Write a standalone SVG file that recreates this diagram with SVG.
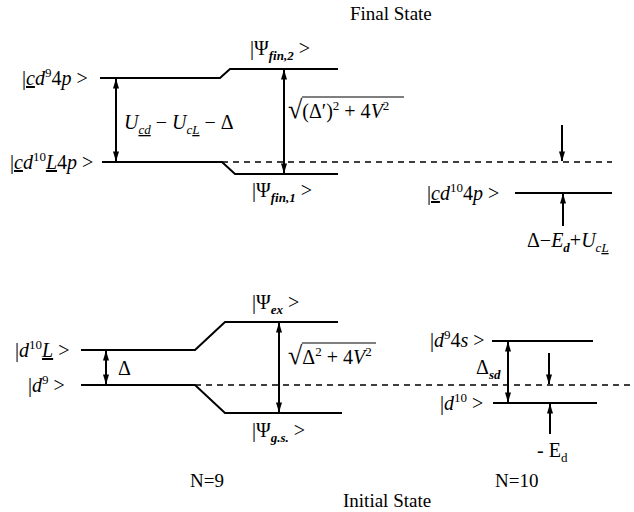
<svg xmlns="http://www.w3.org/2000/svg" width="634" height="512" viewBox="0 0 634 512">
<defs>
<marker id="ah" viewBox="0 0 10 6" refX="9.5" refY="3" markerWidth="11" markerHeight="6" markerUnits="userSpaceOnUse" orient="auto-start-reverse">
<path d="M0,0 L10,3 L0,6 z" fill="#000"/>
</marker>
<style>
text{font-family:"Liberation Serif","DejaVu Serif",serif;font-size:20px;fill:#000}
.ti{font-size:19px}
.i{font-style:italic}
.u{text-decoration:underline}
.s{font-size:13px}
.sb{font-size:13px;font-weight:bold;font-style:italic}
.rd{font-size:26px}
.lv{fill:none;stroke:#000;stroke-width:2}
.ds{fill:none;stroke:#000;stroke-width:1.5;stroke-dasharray:6 5}
.ar{fill:none;stroke:#000;stroke-width:2}
.ob{stroke:#000;stroke-width:1.2}
</style>
</defs>
<rect width="634" height="512" fill="#fff"/>

<g id="titles">
<text class="ti" x="350" y="20">Final State</text>
<text class="ti" x="343" y="507">Initial State</text>
<text class="ti" x="190" y="487">N=9</text>
<text class="ti" x="495" y="487">N=10</text>
</g>

<g id="levels">
<path class="lv" d="M100,78 H220 L230,69 H338"/>
<path class="lv" d="M102,162 H222 L235,174 H338"/>
<path class="lv" d="M515,193 H612"/>
<path class="lv" d="M81,350 H195 L225,322 H338"/>
<path class="lv" d="M81,385 H195 L225,413 H342"/>
<path class="lv" d="M492,341 H593"/>
<path class="lv" d="M493,403 H597"/>
<path class="ds" d="M222,162 H612"/>
<path class="ds" d="M195,385 H634"/>
</g>

<g id="connectors">
<path class="ar" d="M116,79 V161" marker-start="url(#ah)" marker-end="url(#ah)"/>
<path class="ar" d="M284,70 V173" marker-start="url(#ah)" marker-end="url(#ah)"/>
<path class="ar" d="M562,125 V161" marker-end="url(#ah)"/>
<path class="ar" d="M563,226 V194" marker-end="url(#ah)"/>
<path class="ar" d="M106,351 V384" marker-start="url(#ah)" marker-end="url(#ah)"/>
<path class="ar" d="M279,323 V412" marker-start="url(#ah)" marker-end="url(#ah)"/>
<path class="ar" d="M508,342 V402" marker-start="url(#ah)" marker-end="url(#ah)"/>
<path class="ar" d="M549,353 V384" marker-end="url(#ah)"/>
<path class="ar" d="M550,434 V404" marker-end="url(#ah)"/>
</g>

<g id="labels">
<text x="22" y="85">|<tspan class="i u">c</tspan><tspan class="i">d</tspan><tspan class="s" dy="-8">9</tspan><tspan dy="8">4</tspan><tspan class="i">p</tspan> &gt;</text>
<text x="250" y="55">|Ψ<tspan class="sb" dy="5">fin,2</tspan><tspan dy="-5"> &gt;</tspan></text>
<text x="124" y="129"><tspan class="i">U</tspan><tspan class="s i u" dy="5">cd</tspan><tspan dy="-5"> − </tspan><tspan class="i">U</tspan><tspan class="s i" dy="5">c</tspan><tspan class="s i u">L</tspan><tspan dy="-5"> − Δ</tspan></text>
<text x="288" y="118"><tspan class="rd">√</tspan>(Δ′)<tspan class="s" dy="-8">2</tspan><tspan dy="8"> + 4</tspan><tspan class="i">V</tspan><tspan class="s" dy="-8">2</tspan></text>
<path class="ob" d="M302,97 H404"/>
<text x="10" y="169">|<tspan class="i u">c</tspan><tspan class="i">d</tspan><tspan class="s" dy="-8">10</tspan><tspan class="i u" dy="8">L</tspan>4<tspan class="i">p</tspan> &gt;</text>
<text x="252" y="197">|Ψ<tspan class="sb" dy="5">fin,1</tspan><tspan dy="-5"> &gt;</tspan></text>
<text x="427" y="200">|<tspan class="i u">c</tspan><tspan class="i">d</tspan><tspan class="s" dy="-8">10</tspan><tspan dy="8">4</tspan><tspan class="i">p</tspan> &gt;</text>
<text x="527" y="247">Δ−<tspan class="i">E</tspan><tspan class="sb" dy="5">d</tspan><tspan dy="-5">+</tspan><tspan class="i">U</tspan><tspan class="s i" dy="5">c</tspan><tspan class="s i u">L</tspan></text>

<text x="252" y="309">|Ψ<tspan class="sb" dy="5">ex</tspan><tspan dy="-5"> &gt;</tspan></text>
<text x="15" y="357">|<tspan class="i">d</tspan><tspan class="s" dy="-8">10</tspan><tspan class="i u" dy="8">L</tspan> &gt;</text>
<text x="118" y="375">Δ</text>
<text x="28" y="392">|<tspan class="i">d</tspan><tspan class="s" dy="-8">9</tspan><tspan dy="8"> &gt;</tspan></text>
<text x="288" y="364"><tspan class="rd">√</tspan>Δ<tspan class="s" dy="-8">2</tspan><tspan dy="8"> + 4</tspan><tspan class="i">V</tspan><tspan class="s" dy="-8">2</tspan></text>
<path class="ob" d="M302,343 H376"/>
<text x="252" y="437">|Ψ<tspan class="sb" dy="5">g.s.</tspan><tspan dy="-5"> &gt;</tspan></text>
<text x="430" y="347">|<tspan class="i">d</tspan><tspan class="s" dy="-8">9</tspan><tspan dy="8">4</tspan><tspan class="i">s</tspan> &gt;</text>
<text x="476" y="374">Δ<tspan class="sb" dy="5">sd</tspan></text>
<text x="440" y="410">|<tspan class="i">d</tspan><tspan class="s" dy="-8">10</tspan><tspan dy="8"> &gt;</tspan></text>
<text x="537" y="457">- E<tspan class="s" dy="5">d</tspan></text>
</g>
</svg>
